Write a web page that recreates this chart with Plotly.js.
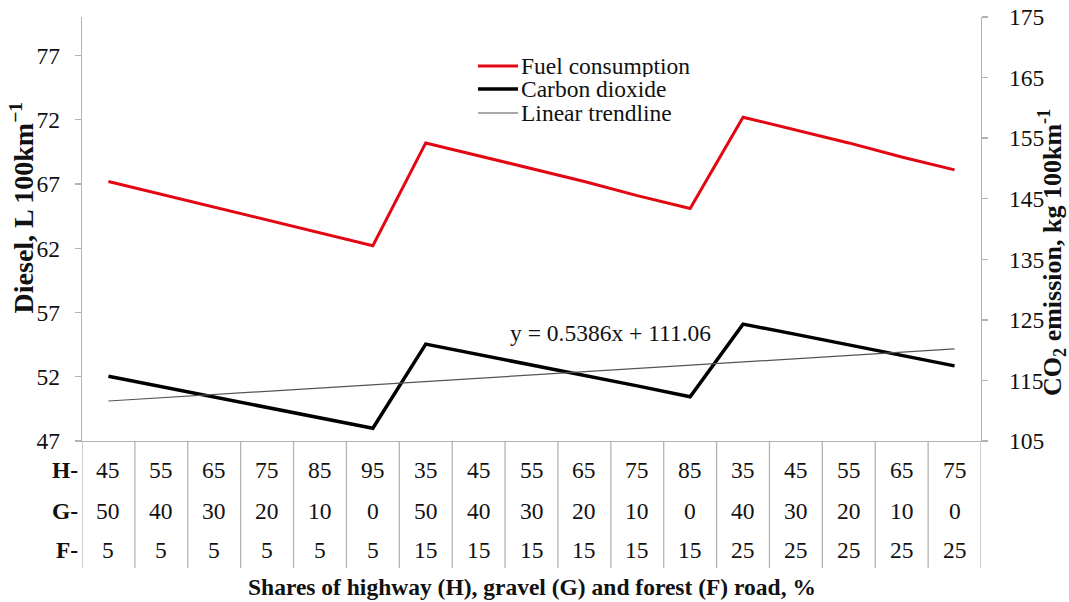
<!DOCTYPE html>
<html>
<head>
<meta charset="utf-8">
<script src="https://cdn.plot.ly/plotly-3.0.1.min.js"></script>
<style>html,body{margin:0;padding:0;background:#fff;}#chart{width:1069px;height:602px;}</style>
</head>
<body>
<div id="chart"></div>
<script>
// ---- data ----
const categories = [1,2,3,4,5,6,7,8,9,10,11,12,13,14,15,16,17];
const highway = [45,55,65,75,85,95,35,45,55,65,75,85,35,45,55,65,75];
const gravel  = [50,40,30,20,10,0,50,40,30,20,10,0,40,30,20,10,0];
const forest  = [5,5,5,5,5,5,15,15,15,15,15,15,25,25,25,25,25];
const fuelConsumption = [67.2,66.2,65.2,64.2,63.2,62.2,70.2,69.2,68.2,67.2,66.1,65.1,72.2,71.2,70.2,69.1,68.1];
const carbonDioxide   = [115.7,114.0,112.3,110.6,108.8,107.1,121.0,119.3,117.5,115.8,114.1,112.3,124.3,122.6,120.9,119.1,117.4];
const trendX = [1,17];
const trendY = [111.6,120.2];
const trendLabel = "y = 0.5386x + 111.06";
const leftTicks  = [47,52,57,62,67,72,77];
const rightTicks = [105,115,125,135,145,155,165,175];
const rowLabels = ["H-","G-","F-"];
const seriesNames = ["Fuel consumption","Carbon dioxide","Linear trendline"];
const leftTitle = "<b>Diesel, L 100km<sup>−1</sup></b>";
const rightTitle = "<b>CO<sub>2</sub> emission, kg 100km<sup>-1</sup></b>";
const xTitle = "<b>Shares of highway (H), gravel (G) and forest (F) road, %</b>";

const FONT = "Liberation Serif, Times New Roman, serif";
const GRAY = "#b3b3b3";
const FS = 23.5;
const colors = ["#e30613", "#000000", "#555555"];
const widths = [3, 3.5, 1.2];

const traces = [
  {x: categories, y: fuelConsumption, name: seriesNames[0], type: "scatter", mode: "lines",
   line: {color: colors[0], width: widths[0]}, yaxis: "y"},
  {x: categories, y: carbonDioxide, name: seriesNames[1], type: "scatter", mode: "lines",
   line: {color: colors[1], width: widths[1]}, yaxis: "y2"},
  {x: trendX, y: trendY, name: seriesNames[2], type: "scatter", mode: "lines",
   line: {color: colors[2], width: widths[2]}, yaxis: "y2"}
];

const rowsY = [-0.068, -0.165, -0.257];
const rows = [highway, gravel, forest];
const annotations = [];
rows.forEach((arr, r) => {
  arr.forEach((v, i) => {
    annotations.push({x: categories[i], y: rowsY[r], xref: "x", yref: "paper", text: String(v),
      showarrow: false, font: {family: FONT, size: FS, color: "#111"}, xanchor: "center", yanchor: "middle"});
  });
  annotations.push({x: -0.002, y: rowsY[r], xref: "paper", yref: "paper", text: "<b>" + rowLabels[r] + "</b>",
    showarrow: false, font: {family: FONT, size: FS, color: "#111"}, xanchor: "right", yanchor: "middle"});
});
annotations.push({x: 0.5, y: -0.344, xref: "paper", yref: "paper", text: xTitle,
  showarrow: false, font: {family: FONT, size: FS, color: "#111"}, xanchor: "center", yanchor: "middle"});
annotations.push({x: -0.0667, y: 0.551, xref: "paper", yref: "paper", text: leftTitle, textangle: -90,
  showarrow: false, font: {family: FONT, size: 28, color: "#111"}, xanchor: "center", yanchor: "middle"});
annotations.push({x: 1.0795, y: 0.4446, xref: "paper", yref: "paper", text: rightTitle, textangle: -90,
  showarrow: false, font: {family: FONT, size: 26, color: "#111"}, xanchor: "center", yanchor: "middle"});
annotations.push({x: 0.474, y: 0.255, xref: "paper", yref: "paper", text: trendLabel,
  showarrow: false, font: {family: FONT, size: FS, color: "#111"}, xanchor: "left", yanchor: "middle"});

// manual legend (compact spacing like the reference)
const legendY = [0.8844, 0.830, 0.7736];
const shapes = [];
seriesNames.forEach((n, i) => {
  shapes.push({type: "line", xref: "paper", yref: "paper", x0: 0.4405, x1: 0.485, y0: legendY[i], y1: legendY[i],
    line: {color: colors[i], width: widths[i]}});
  annotations.push({x: 0.486, y: legendY[i], xref: "paper", yref: "paper", text: n, showarrow: false,
    height: 22, valign: "middle",
    font: {family: FONT, size: FS, color: "#111"}, xanchor: "left", yanchor: "middle"});
});

for (let k = 0; k <= categories.length; k++) {
  shapes.push({type: "line", xref: "x", yref: "paper", x0: 0.5 + k, x1: 0.5 + k, y0: 0, y1: -0.2995,
    line: {color: GRAY, width: 1.3}});
}

const layout = {
  width: 1069, height: 602,
  margin: {l: 82, r: 88, t: 17, b: 161},
  paper_bgcolor: "#fff", plot_bgcolor: "#fff",
  showlegend: false,
  xaxis: {range: [0.5, 17.5], showticklabels: false, ticks: "", showgrid: false, zeroline: false,
    showline: true, linecolor: GRAY, linewidth: 1.3, fixedrange: true},
  yaxis: {range: [47, 80], tickvals: leftTicks, ticks: "outside", ticklen: 6, tickcolor: GRAY, tickwidth: 1.3,
    ticklabelstandoff: 10,
    showgrid: false, zeroline: false, showline: true, linecolor: GRAY, linewidth: 1.3,
    tickfont: {family: FONT, size: FS, color: "#111"}},
  yaxis2: {range: [105, 175], tickvals: rightTicks, overlaying: "y", side: "right", ticks: "outside", ticklen: 6,
    ticklabelstandoff: 16,
    tickcolor: GRAY, tickwidth: 1.3, showgrid: false, zeroline: false, showline: true, linecolor: GRAY, linewidth: 1.3,
    tickfont: {family: FONT, size: FS, color: "#111"}},
  annotations: annotations,
  shapes: shapes
};

Plotly.newPlot("chart", traces, layout, {displayModeBar: false, staticPlot: true});
</script>
</body>
</html>
